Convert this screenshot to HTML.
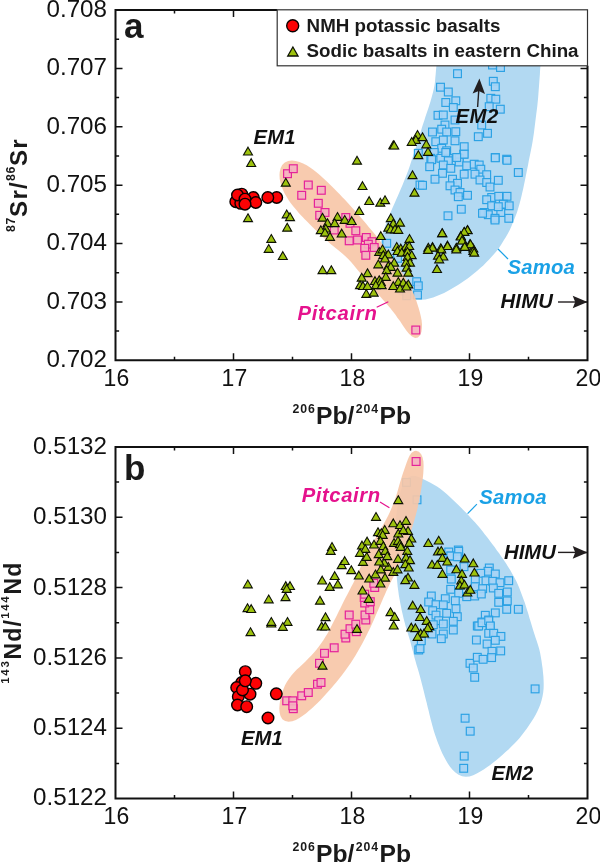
<!DOCTYPE html>
<html><head><meta charset="utf-8"><title>Sr-Nd-Pb isotopes</title>
<style>html,body{margin:0;padding:0;background:#fff}svg{display:block;will-change:transform}text{font-family:"Liberation Sans",sans-serif}.tk{font-size:24.2px;fill:#111}.bl{font-weight:bold;fill:#1a1a1a}.it{font-weight:bold;font-style:italic;font-size:20.3px}.sq{fill:#a6d4f5;fill-opacity:.92;stroke:#2aa1e4;stroke-width:1.15}.pk{fill:#f4b2c0;fill-opacity:.92;stroke:#e5239a;stroke-width:1.2}.tr{fill:#9dc20d;stroke:#0c1004;stroke-width:1.1;stroke-linejoin:miter}.rc{fill:#fc0204;stroke:#0a0000;stroke-width:1.4}</style></head><body>
<svg width="600" height="862" viewBox="0 0 600 862">
<rect width="600" height="862" fill="#fff"/>
<defs><path id="T" d="M0,-4.15 L4.5,3.65 L-4.5,3.65Z"/><rect id="S" x="-3.9" y="-3.9" width="7.8" height="7.8"/><rect id="P" x="-3.9" y="-3.9" width="7.8" height="7.8"/></defs>
<path d="M438.4,58.9 L437.0,62.2 L436.4,66.0 L436.0,70.0 L435.7,74.0 L435.3,78.0 L435.0,81.9 L434.4,85.9 L433.6,89.8 L432.6,93.7 L431.6,97.5 L430.5,101.4 L429.3,105.2 L428.1,109.0 L426.8,112.8 L425.5,116.6 L424.3,120.4 L423.0,124.2 L421.8,128.0 L420.7,131.9 L419.5,135.7 L418.3,139.5 L417.1,143.3 L415.9,147.2 L414.7,151.0 L413.4,154.8 L412.2,158.6 L410.9,162.4 L409.7,166.2 L408.4,170.0 L407.0,173.7 L405.5,177.4 L404.0,181.2 L402.5,184.9 L401.0,188.6 L399.4,192.2 L397.8,195.9 L396.2,199.6 L394.6,203.2 L392.9,206.9 L391.4,210.6 L389.8,214.3 L388.3,218.0 L386.8,221.7 L385.4,225.4 L384.2,229.2 L383.0,233.1 L382.0,236.9 L381.3,240.8 L380.8,244.8 L380.5,248.8 L380.4,252.8 L380.4,256.7 L380.7,260.7 L381.2,264.7 L381.9,268.6 L382.8,272.5 L384.1,276.2 L385.7,279.8 L387.6,283.3 L389.8,286.6 L392.4,289.5 L395.4,292.1 L398.6,294.4 L402.1,296.2 L405.8,297.6 L409.6,298.6 L413.5,299.3 L417.5,299.6 L421.5,299.7 L425.4,299.4 L429.3,298.6 L433.1,297.4 L436.8,296.1 L440.5,294.5 L444.1,292.9 L447.7,291.1 L451.2,289.1 L454.6,287.1 L458.0,285.0 L461.4,282.8 L464.7,280.6 L468.0,278.3 L471.1,275.8 L474.2,273.2 L477.3,270.7 L480.3,268.1 L483.3,265.4 L486.1,262.6 L488.9,259.7 L491.6,256.8 L494.3,253.8 L496.9,250.8 L499.3,247.6 L501.4,244.2 L503.5,240.8 L505.6,237.4 L507.6,233.9 L509.5,230.4 L511.2,226.8 L512.7,223.1 L514.2,219.4 L515.7,215.7 L517.1,211.9 L518.3,208.1 L519.4,204.3 L520.4,200.4 L521.4,196.5 L522.3,192.6 L523.2,188.7 L524.0,184.8 L524.8,180.9 L525.6,177.0 L526.4,173.0 L527.2,169.1 L528.0,165.2 L528.7,161.3 L529.5,157.3 L530.3,153.4 L531.1,149.5 L531.9,145.5 L532.6,141.6 L533.2,137.7 L533.8,133.7 L534.3,129.7 L534.8,125.7 L535.3,121.8 L535.8,117.8 L536.3,113.8 L536.8,109.9 L537.3,105.9 L537.7,101.9 L538.1,97.9 L538.4,93.9 L538.7,89.9 L539.0,85.9 L539.3,82.0 L539.6,78.0 L539.9,74.0 L540.1,70.0 L540.4,66.0 L540.3,62.2 L539.3,58.8 L537.2,56.1 L534.1,53.8 L530.8,51.7 L527.4,49.6 L523.9,47.6 L520.3,46.1 L516.6,45.3 L512.6,45.1 L508.7,45.0 L504.6,45.0 L500.6,45.0 L496.6,45.0 L492.6,45.0 L488.6,45.0 L484.6,45.0 L480.6,45.0 L476.6,45.0 L472.6,45.0 L468.6,45.0 L464.7,45.2 L460.8,45.7 L457.1,47.0 L453.6,48.7 L450.1,50.6 L446.6,52.6 L443.2,54.6 L440.1,56.9Z" fill="#b2d9f2"/>
<g class="sq"><use href="#S" x="418.3" y="153.3"/><use href="#S" x="420.0" y="185.0"/><use href="#S" x="386.7" y="243.3"/><use href="#S" x="397.5" y="258.3"/><use href="#S" x="416.7" y="281.7"/><use href="#S" x="418.3" y="285.8"/><use href="#S" x="417.5" y="295.0"/><use href="#S" x="457.5" y="73.7"/><use href="#S" x="500.5" y="67.5"/><use href="#S" x="492.5" y="65.0"/><use href="#S" x="440.5" y="87.2"/><use href="#S" x="448.3" y="92.0"/><use href="#S" x="493.3" y="81.3"/><use href="#S" x="495.3" y="86.7"/><use href="#S" x="445.8" y="102.5"/><use href="#S" x="455.8" y="100.8"/><use href="#S" x="453.3" y="107.5"/><use href="#S" x="490.8" y="98.3"/><use href="#S" x="495.8" y="99.2"/><use href="#S" x="489.2" y="106.7"/><use href="#S" x="500.3" y="109.2"/><use href="#S" x="438.0" y="115.3"/><use href="#S" x="443.3" y="115.0"/><use href="#S" x="455.0" y="120.0"/><use href="#S" x="445.0" y="125.0"/><use href="#S" x="441.7" y="129.2"/><use href="#S" x="432.5" y="132.0"/><use href="#S" x="446.7" y="132.0"/><use href="#S" x="455.8" y="131.7"/><use href="#S" x="481.7" y="125.0"/><use href="#S" x="487.5" y="133.3"/><use href="#S" x="478.3" y="136.7"/><use href="#S" x="435.8" y="141.7"/><use href="#S" x="443.3" y="140.0"/><use href="#S" x="455.0" y="140.8"/><use href="#S" x="441.7" y="148.3"/><use href="#S" x="446.7" y="150.8"/><use href="#S" x="464.2" y="146.7"/><use href="#S" x="463.7" y="154.2"/><use href="#S" x="434.2" y="152.5"/><use href="#S" x="495.3" y="157.5"/><use href="#S" x="506.7" y="159.2"/><use href="#S" x="430.8" y="158.3"/><use href="#S" x="448.3" y="158.3"/><use href="#S" x="459.2" y="158.3"/><use href="#S" x="431.7" y="159.7"/><use href="#S" x="440.8" y="158.3"/><use href="#S" x="445.8" y="152.5"/><use href="#S" x="429.7" y="166.7"/><use href="#S" x="448.3" y="160.8"/><use href="#S" x="443.3" y="165.0"/><use href="#S" x="450.8" y="168.3"/><use href="#S" x="459.2" y="162.0"/><use href="#S" x="464.2" y="154.2"/><use href="#S" x="456.7" y="157.5"/><use href="#S" x="466.7" y="165.8"/><use href="#S" x="474.2" y="164.2"/><use href="#S" x="479.2" y="165.0"/><use href="#S" x="480.8" y="169.2"/><use href="#S" x="442.5" y="173.3"/><use href="#S" x="435.0" y="179.2"/><use href="#S" x="452.5" y="179.2"/><use href="#S" x="464.2" y="174.2"/><use href="#S" x="475.0" y="174.2"/><use href="#S" x="486.7" y="174.7"/><use href="#S" x="457.5" y="183.3"/><use href="#S" x="450.0" y="185.8"/><use href="#S" x="455.0" y="190.0"/><use href="#S" x="460.0" y="192.5"/><use href="#S" x="458.3" y="196.7"/><use href="#S" x="467.5" y="195.3"/><use href="#S" x="422.5" y="185.3"/><use href="#S" x="480.0" y="180.0"/><use href="#S" x="486.7" y="182.5"/><use href="#S" x="490.0" y="187.0"/><use href="#S" x="498.3" y="180.3"/><use href="#S" x="495.3" y="157.8"/><use href="#S" x="507.0" y="160.3"/><use href="#S" x="518.3" y="172.5"/><use href="#S" x="491.7" y="197.5"/><use href="#S" x="486.7" y="199.7"/><use href="#S" x="498.7" y="196.3"/><use href="#S" x="507.0" y="196.3"/><use href="#S" x="491.7" y="205.8"/><use href="#S" x="503.3" y="204.2"/><use href="#S" x="509.2" y="205.8"/><use href="#S" x="484.2" y="212.5"/><use href="#S" x="488.3" y="214.7"/><use href="#S" x="500.8" y="212.5"/><use href="#S" x="495.0" y="218.3"/><use href="#S" x="508.8" y="218.3"/><use href="#S" x="482.5" y="213.3"/><use href="#S" x="498.3" y="206.7"/><use href="#S" x="461.3" y="209.2"/><use href="#S" x="448.0" y="215.8"/><use href="#S" x="495.0" y="220.0"/><use href="#S" x="406.7" y="295.8"/></g>
<path d="M279.7,172.1 L280.6,168.3 L282.2,165.0 L284.8,162.6 L288.2,161.1 L291.9,160.5 L295.7,160.9 L299.5,162.0 L303.1,163.5 L306.7,165.3 L310.1,167.4 L313.3,169.7 L316.5,172.2 L319.5,174.8 L322.5,177.4 L325.5,180.2 L328.4,182.9 L331.2,185.7 L334.0,188.6 L336.9,191.4 L339.7,194.3 L342.4,197.2 L345.2,200.1 L347.9,203.0 L350.6,206.0 L353.3,208.9 L356.0,211.9 L358.6,214.9 L361.2,218.0 L363.8,221.1 L366.4,224.1 L368.9,227.2 L371.5,230.3 L374.1,233.3 L376.6,236.4 L379.1,239.6 L381.5,242.8 L383.7,246.1 L386.0,249.4 L388.3,252.7 L390.6,256.0 L392.9,259.3 L395.1,262.6 L397.4,265.9 L399.7,269.2 L402.0,272.5 L404.2,275.8 L406.2,279.2 L408.2,282.7 L410.0,286.3 L411.8,289.9 L413.5,293.5 L415.1,297.2 L416.4,300.9 L417.6,304.7 L418.8,308.6 L419.9,312.4 L420.8,316.3 L421.6,320.2 L422.0,324.2 L421.9,328.1 L421.4,332.0 L420.1,335.3 L417.9,337.6 L415.1,338.0 L412.0,336.6 L409.2,334.1 L406.7,331.0 L404.4,327.8 L402.2,324.4 L400.0,321.1 L397.6,317.9 L395.3,314.6 L392.9,311.4 L390.4,308.3 L387.8,305.2 L385.2,302.2 L382.5,299.2 L379.9,296.2 L377.2,293.2 L374.6,290.2 L372.0,287.1 L369.4,284.0 L366.9,281.0 L364.3,277.9 L361.7,274.9 L359.1,271.8 L356.6,268.7 L354.0,265.6 L351.5,262.5 L348.7,259.6 L345.9,256.8 L342.9,254.1 L339.9,251.5 L336.8,249.0 L333.7,246.4 L330.6,243.9 L327.6,241.3 L324.6,238.6 L321.6,235.9 L318.7,233.1 L315.8,230.3 L313.0,227.5 L310.2,224.7 L307.3,221.8 L304.5,219.0 L301.7,216.1 L299.0,213.2 L296.4,210.1 L293.8,207.1 L291.4,203.9 L289.0,200.7 L286.9,197.3 L284.9,193.9 L283.1,190.3 L281.6,186.6 L280.5,182.8 L279.7,178.9 L279.5,175.0Z" fill="#f7c7a8" fill-opacity=".92"/>
<g class="pk"><use href="#P" x="287.5" y="173.7"/><use href="#P" x="293.3" y="168.7"/><use href="#P" x="308.3" y="185.0"/><use href="#P" x="301.7" y="195.3"/><use href="#P" x="321.3" y="190.3"/><use href="#P" x="318.3" y="203.3"/><use href="#P" x="319.7" y="215.3"/><use href="#P" x="325.0" y="212.5"/><use href="#P" x="334.2" y="230.0"/><use href="#P" x="345.8" y="217.5"/><use href="#P" x="350.0" y="223.3"/><use href="#P" x="355.8" y="230.8"/><use href="#P" x="349.2" y="240.8"/><use href="#P" x="357.5" y="240.0"/><use href="#P" x="366.3" y="237.5"/><use href="#P" x="372.0" y="241.7"/><use href="#P" x="368.3" y="244.2"/><use href="#P" x="374.2" y="247.5"/><use href="#P" x="364.7" y="248.3"/><use href="#P" x="365.8" y="255.3"/><use href="#P" x="415.8" y="330.0"/></g>
<g class="tr"><use href="#T" x="248.0" y="151.3"/><use href="#T" x="251.2" y="162.8"/><use href="#T" x="285.8" y="182.5"/><use href="#T" x="248.0" y="218.0"/><use href="#T" x="286.7" y="214.2"/><use href="#T" x="290.0" y="217.0"/><use href="#T" x="287.2" y="227.5"/><use href="#T" x="393.3" y="145.0"/><use href="#T" x="394.2" y="145.3"/><use href="#T" x="357.0" y="160.5"/><use href="#T" x="417.5" y="134.7"/><use href="#T" x="415.8" y="139.7"/><use href="#T" x="411.7" y="141.7"/><use href="#T" x="418.3" y="155.0"/><use href="#T" x="412.5" y="175.0"/><use href="#T" x="414.5" y="192.5"/><use href="#T" x="362.5" y="185.8"/><use href="#T" x="369.2" y="200.8"/><use href="#T" x="380.3" y="202.5"/><use href="#T" x="385.0" y="200.0"/><use href="#T" x="359.2" y="210.8"/><use href="#T" x="322.5" y="217.5"/><use href="#T" x="337.5" y="216.7"/><use href="#T" x="344.7" y="219.7"/><use href="#T" x="351.7" y="220.8"/><use href="#T" x="327.5" y="223.0"/><use href="#T" x="334.7" y="223.0"/><use href="#T" x="325.8" y="228.3"/><use href="#T" x="320.8" y="230.0"/><use href="#T" x="325.0" y="232.5"/><use href="#T" x="330.0" y="236.7"/><use href="#T" x="341.7" y="233.3"/><use href="#T" x="322.5" y="270.0"/><use href="#T" x="331.3" y="270.0"/><use href="#T" x="380.8" y="235.8"/><use href="#T" x="390.8" y="218.0"/><use href="#T" x="393.3" y="223.3"/><use href="#T" x="400.0" y="222.5"/><use href="#T" x="388.3" y="227.5"/><use href="#T" x="390.8" y="229.2"/><use href="#T" x="395.0" y="229.2"/><use href="#T" x="398.3" y="229.7"/><use href="#T" x="409.5" y="238.7"/><use href="#T" x="396.7" y="246.7"/><use href="#T" x="400.8" y="248.3"/><use href="#T" x="405.8" y="246.7"/><use href="#T" x="409.2" y="245.8"/><use href="#T" x="397.5" y="250.8"/><use href="#T" x="401.7" y="252.5"/><use href="#T" x="407.5" y="251.7"/><use href="#T" x="411.7" y="255.0"/><use href="#T" x="407.5" y="256.7"/><use href="#T" x="410.0" y="262.5"/><use href="#T" x="405.8" y="262.5"/><use href="#T" x="406.7" y="267.5"/><use href="#T" x="408.3" y="272.5"/><use href="#T" x="379.2" y="251.7"/><use href="#T" x="382.5" y="249.2"/><use href="#T" x="383.3" y="255.0"/><use href="#T" x="388.3" y="254.2"/><use href="#T" x="385.0" y="258.3"/><use href="#T" x="378.3" y="264.2"/><use href="#T" x="394.2" y="262.5"/><use href="#T" x="388.3" y="265.8"/><use href="#T" x="390.8" y="266.7"/><use href="#T" x="386.7" y="270.0"/><use href="#T" x="397.5" y="272.5"/><use href="#T" x="385.8" y="276.7"/><use href="#T" x="367.5" y="273.0"/><use href="#T" x="361.7" y="277.5"/><use href="#T" x="375.0" y="280.8"/><use href="#T" x="379.2" y="280.0"/><use href="#T" x="380.8" y="281.7"/><use href="#T" x="398.3" y="281.7"/><use href="#T" x="403.3" y="282.5"/><use href="#T" x="408.3" y="284.2"/><use href="#T" x="360.0" y="285.0"/><use href="#T" x="363.0" y="285.8"/><use href="#T" x="367.5" y="285.8"/><use href="#T" x="375.8" y="285.0"/><use href="#T" x="381.7" y="285.0"/><use href="#T" x="393.3" y="285.8"/><use href="#T" x="400.0" y="288.3"/><use href="#T" x="406.3" y="286.3"/><use href="#T" x="366.3" y="293.7"/><use href="#T" x="373.7" y="292.5"/><use href="#T" x="271.3" y="238.7"/><use href="#T" x="268.7" y="248.7"/><use href="#T" x="282.8" y="255.8"/><use href="#T" x="422.5" y="137.0"/><use href="#T" x="426.3" y="144.2"/><use href="#T" x="428.0" y="151.7"/><use href="#T" x="442.2" y="233.0"/><use href="#T" x="467.5" y="229.7"/><use href="#T" x="464.2" y="231.7"/><use href="#T" x="460.8" y="235.8"/><use href="#T" x="462.5" y="240.0"/><use href="#T" x="470.0" y="243.7"/><use href="#T" x="464.7" y="245.8"/><use href="#T" x="447.5" y="245.3"/><use href="#T" x="432.5" y="246.7"/><use href="#T" x="428.3" y="247.5"/><use href="#T" x="440.8" y="248.0"/><use href="#T" x="456.3" y="247.5"/><use href="#T" x="473.3" y="248.3"/><use href="#T" x="442.2" y="233.0"/><use href="#T" x="467.5" y="230.0"/><use href="#T" x="464.2" y="231.7"/><use href="#T" x="460.8" y="236.3"/><use href="#T" x="462.0" y="240.3"/><use href="#T" x="470.5" y="244.2"/><use href="#T" x="464.7" y="246.7"/><use href="#T" x="456.3" y="249.2"/><use href="#T" x="473.3" y="250.8"/><use href="#T" x="474.2" y="252.5"/><use href="#T" x="447.5" y="245.8"/><use href="#T" x="432.5" y="247.5"/><use href="#T" x="428.0" y="249.7"/><use href="#T" x="441.3" y="249.2"/><use href="#T" x="438.0" y="255.5"/><use href="#T" x="443.3" y="256.3"/><use href="#T" x="439.2" y="259.2"/><use href="#T" x="437.0" y="268.8"/></g>
<g class="rc"><circle cx="241.7" cy="194.2" r="5.8"/><circle cx="235.8" cy="201.7" r="5.8"/><circle cx="253.3" cy="197.5" r="5.8"/><circle cx="240.8" cy="203.3" r="5.8"/><circle cx="237.5" cy="195.0" r="5.8"/><circle cx="245.0" cy="199.2" r="5.8"/><circle cx="255.8" cy="202.5" r="5.8"/><circle cx="245.0" cy="204.2" r="5.8"/><circle cx="276.7" cy="197.5" r="5.8"/><circle cx="267.8" cy="197.5" r="5.8"/></g>
<path d="M174.5,360.3 v-3.6 M174.5,10.0 v3.6 M233.5,360.3 v-7 M233.5,10.0 v7 M292.5,360.3 v-3.6 M292.5,10.0 v3.6 M351.5,360.3 v-7 M351.5,10.0 v7 M410.5,360.3 v-3.6 M410.5,10.0 v3.6 M469.5,360.3 v-7 M469.5,10.0 v7 M528.5,360.3 v-3.6 M528.5,10.0 v3.6 M115.5,39.2 h3.6 M587.5,39.2 h-3.6 M115.5,68.4 h7 M587.5,68.4 h-7 M115.5,97.6 h3.6 M587.5,97.6 h-3.6 M115.5,126.8 h7 M587.5,126.8 h-7 M115.5,156.0 h3.6 M587.5,156.0 h-3.6 M115.5,185.2 h7 M587.5,185.2 h-7 M115.5,214.3 h3.6 M587.5,214.3 h-3.6 M115.5,243.5 h7 M587.5,243.5 h-7 M115.5,272.7 h3.6 M587.5,272.7 h-3.6 M115.5,301.9 h7 M587.5,301.9 h-7 M115.5,331.1 h3.6 M587.5,331.1 h-3.6" stroke="#111" stroke-width="1.5" fill="none"/>
<path d="M277.2,10.0 H115.5 V360.3 H587.5 V65.8" fill="none" stroke="#111" stroke-width="2" stroke-linejoin="miter"/>
<text class="tk" text-anchor="end" transform="translate(107,16.9)">0.708</text>
<text class="tk" text-anchor="end" transform="translate(107,75.3)">0.707</text>
<text class="tk" text-anchor="end" transform="translate(107,133.7)">0.706</text>
<text class="tk" text-anchor="end" transform="translate(107,192.1)">0.705</text>
<text class="tk" text-anchor="end" transform="translate(107,250.4)">0.704</text>
<text class="tk" text-anchor="end" transform="translate(107,308.8)">0.703</text>
<text class="tk" text-anchor="end" transform="translate(107,367.2)">0.702</text>
<text class="tk" text-anchor="middle" style="font-size:23px" transform="translate(116.4,385.5)">16</text>
<text class="tk" text-anchor="middle" style="font-size:23px" transform="translate(234.4,385.5)">17</text>
<text class="tk" text-anchor="middle" style="font-size:23px" transform="translate(352.4,385.5)">18</text>
<text class="tk" text-anchor="middle" style="font-size:23px" transform="translate(470.4,385.5)">19</text>
<text class="tk" text-anchor="middle" style="font-size:23px" transform="translate(588.4,385.5)">20</text>
<rect x="277.2" y="9.8" width="310.3" height="56" fill="#fff" stroke="#333" stroke-width="1.2"/>
<circle cx="292.7" cy="25.8" r="6" class="rc"/>
<use href="#T" x="292.9" y="51.8" class="tr" transform="translate(292.9,51.8) scale(1.15) translate(-292.9,-51.8)"/>
<text class="bl" font-size="18.75" x="306.6" y="31.7">NMH potassic basalts</text>
<text class="bl" font-size="18.75" x="306.6" y="56.5">Sodic basalts in eastern China</text>
<text class="bl" font-size="35" x="124" y="38">a</text>
<text class="bl" font-size="35" x="124" y="479.5">b</text>
<text class="it" x="253.5" y="144.2" fill="#111" letter-spacing=".2">EM1</text>
<text class="it" x="455.5" y="123" fill="#111" letter-spacing=".5">EM2</text>
<text class="it" x="500.5" y="308.4" fill="#111" letter-spacing=".2">HIMU</text>
<text class="it" x="507.5" y="273.6" fill="#1aa1e6" letter-spacing=".2">Samoa</text>
<text class="it" x="297.5" y="320" fill="#e5128d" letter-spacing=".7">Pitcairn</text>
<path d="M498,249 L508,259" stroke="#1aa1e6" stroke-width="1.2"/>
<path d="M376.7,307.3 L388.3,301.7" stroke="#e5128d" stroke-width="1.2"/>
<path d="M558,302 H576" stroke="#231f20" stroke-width="1.4"/><path d="M587.5,302 L572.7,295.7 L575.2,302 L572.7,308.3Z" fill="#231f20"/>
<path d="M477.6,107 L478.8,90" stroke="#231f20" stroke-width="1.4"/><path d="M479.4,78.5 L472.6,93.5 L478.8,91 L485,94Z" fill="#231f20"/>
<text class="bl" font-size="24.7" x="292.4" y="423.9"><tspan font-size="12.3" dy="-11.3" letter-spacing="1">206</tspan><tspan dy="11.3">Pb/</tspan><tspan font-size="12.3" dx="1.3" dy="-11.3" letter-spacing="1">204</tspan><tspan dx=".4" dy="11.3">Pb</tspan></text>
<text class="bl" font-size="24.7" x="292.4" y="861.9"><tspan font-size="12.3" dy="-11.3" letter-spacing="1">206</tspan><tspan dy="11.3">Pb/</tspan><tspan font-size="12.3" dx="1.3" dy="-11.3" letter-spacing="1">204</tspan><tspan dx=".4" dy="11.3">Pb</tspan></text>
<text class="bl" font-size="24.2" letter-spacing="1.2" transform="translate(26.5,232.0) rotate(-90)"><tspan font-size="12.3" dy="-11.5" letter-spacing="0.7">87</tspan><tspan dy="11.5">Sr/</tspan><tspan font-size="12.3" dy="-11.5" letter-spacing="0.7">86</tspan><tspan dy="11.5">Sr</tspan></text>
<text class="bl" font-size="23" letter-spacing="1.2" transform="translate(20.5,683.8) rotate(-90)"><tspan font-size="11.5" dy="-11.4" letter-spacing="1.7">143</tspan><tspan dy="11.4">Nd/</tspan><tspan font-size="11.5" dy="-11.4" letter-spacing="1.7">144</tspan><tspan dy="11.4">Nd</tspan></text>
<path d="M412.2,475.8 L415.7,476.1 L419.3,477.3 L422.9,479.0 L426.5,480.8 L430.0,482.6 L433.5,484.6 L437.0,486.5 L440.3,488.7 L443.4,491.2 L446.4,493.8 L449.4,496.5 L452.3,499.2 L455.2,502.0 L458.1,504.8 L460.9,507.6 L463.8,510.4 L466.6,513.3 L469.3,516.2 L472.0,519.2 L474.7,522.1 L477.3,525.1 L479.9,528.1 L482.5,531.2 L484.9,534.4 L487.4,537.6 L489.8,540.7 L492.2,543.9 L494.6,547.1 L496.9,550.4 L499.3,553.6 L501.6,556.9 L503.9,560.2 L506.1,563.5 L508.2,566.9 L510.3,570.3 L512.2,573.8 L514.2,577.3 L516.1,580.8 L517.8,584.4 L519.3,588.1 L520.7,591.8 L522.1,595.6 L523.5,599.3 L524.9,603.1 L526.1,606.9 L527.3,610.7 L528.5,614.5 L529.6,618.4 L530.8,622.2 L531.9,626.0 L533.1,629.9 L534.3,633.7 L535.5,637.5 L536.8,641.3 L538.0,645.1 L539.2,648.9 L540.1,652.8 L540.8,656.7 L541.5,660.7 L542.0,664.6 L542.6,668.6 L543.0,672.5 L543.4,676.5 L543.6,680.5 L543.7,684.5 L543.6,688.5 L543.2,692.5 L542.5,696.4 L541.6,700.3 L540.5,704.1 L539.0,707.8 L537.3,711.4 L535.5,714.9 L533.5,718.4 L531.4,721.8 L529.2,725.1 L526.9,728.4 L524.6,731.6 L522.1,734.8 L519.6,737.9 L516.9,740.9 L514.2,743.8 L511.4,746.6 L508.5,749.4 L505.5,752.1 L502.6,754.7 L499.5,757.4 L496.5,759.9 L493.3,762.4 L490.2,764.9 L486.9,767.2 L483.7,769.5 L480.3,771.6 L476.8,773.6 L473.2,775.3 L469.5,776.4 L465.8,776.8 L462.1,776.2 L458.6,774.7 L455.4,772.5 L452.5,769.8 L450.0,766.7 L447.8,763.4 L445.8,760.0 L443.9,756.5 L442.1,752.9 L440.5,749.2 L439.0,745.6 L437.5,741.8 L436.2,738.1 L434.9,734.3 L433.7,730.4 L432.6,726.6 L431.6,722.7 L430.6,718.9 L429.6,715.0 L428.7,711.1 L427.7,707.2 L426.8,703.3 L425.8,699.5 L424.8,695.6 L423.9,691.7 L422.9,687.8 L421.9,683.9 L420.9,680.1 L419.9,676.2 L418.8,672.3 L417.7,668.5 L416.5,664.7 L415.4,660.8 L414.3,657.0 L413.3,653.1 L412.3,649.2 L411.3,645.4 L410.3,641.5 L409.2,637.7 L408.0,633.9 L406.8,630.0 L405.6,626.2 L404.6,622.3 L403.6,618.5 L402.7,614.6 L401.8,610.7 L401.0,606.7 L400.2,602.8 L399.5,598.9 L398.8,594.9 L398.3,591.0 L397.7,587.0 L397.3,583.0 L396.9,579.1 L396.6,575.1 L396.3,571.1 L396.1,567.1 L395.9,563.1 L395.7,559.1 L395.5,555.1 L395.3,551.1 L395.2,547.1 L395.1,543.1 L395.2,539.1 L395.3,535.1 L395.5,531.1 L395.6,527.1 L395.7,523.1 L395.9,519.1 L396.2,515.2 L396.7,511.2 L397.4,507.2 L398.0,503.3 L398.7,499.4 L399.5,495.5 L400.5,491.6 L401.7,487.8 L403.2,484.1 L405.0,480.7 L407.5,478.0 L410.5,476.2Z" fill="#b2d9f2"/>
<g class="sq"><use href="#S" x="458.3" y="550.0"/><use href="#S" x="448.7" y="552.0"/><use href="#S" x="451.3" y="556.0"/><use href="#S" x="458.7" y="556.7"/><use href="#S" x="450.7" y="556.0"/><use href="#S" x="458.7" y="551.3"/><use href="#S" x="457.3" y="556.7"/><use href="#S" x="464.0" y="566.7"/><use href="#S" x="450.7" y="570.0"/><use href="#S" x="451.3" y="579.1"/><use href="#S" x="450.7" y="589.3"/><use href="#S" x="458.7" y="593.3"/><use href="#S" x="431.3" y="596.0"/><use href="#S" x="466.7" y="596.7"/><use href="#S" x="445.3" y="598.7"/><use href="#S" x="455.3" y="600.7"/><use href="#S" x="428.7" y="602.0"/><use href="#S" x="436.0" y="604.7"/><use href="#S" x="443.3" y="604.9"/><use href="#S" x="456.0" y="608.7"/><use href="#S" x="432.7" y="610.7"/><use href="#S" x="446.7" y="613.3"/><use href="#S" x="436.0" y="615.1"/><use href="#S" x="457.3" y="616.7"/><use href="#S" x="438.7" y="620.7"/><use href="#S" x="489.3" y="568.0"/><use href="#S" x="488.0" y="571.3"/><use href="#S" x="495.3" y="574.0"/><use href="#S" x="480.7" y="573.3"/><use href="#S" x="475.3" y="579.3"/><use href="#S" x="486.0" y="580.7"/><use href="#S" x="492.7" y="581.3"/><use href="#S" x="500.0" y="582.7"/><use href="#S" x="508.7" y="580.7"/><use href="#S" x="475.3" y="586.7"/><use href="#S" x="482.7" y="588.7"/><use href="#S" x="493.3" y="588.0"/><use href="#S" x="498.7" y="593.3"/><use href="#S" x="507.3" y="592.0"/><use href="#S" x="474.7" y="596.0"/><use href="#S" x="481.3" y="594.0"/><use href="#S" x="498.7" y="602.3"/><use href="#S" x="507.3" y="600.9"/><use href="#S" x="506.7" y="609.3"/><use href="#S" x="518.3" y="609.3"/><use href="#S" x="495.3" y="612.9"/><use href="#S" x="485.3" y="615.3"/><use href="#S" x="482.0" y="622.0"/><use href="#S" x="488.7" y="620.0"/><use href="#S" x="490.0" y="626.0"/><use href="#S" x="477.3" y="626.0"/><use href="#S" x="443.3" y="624.0"/><use href="#S" x="453.3" y="621.3"/><use href="#S" x="433.3" y="624.7"/><use href="#S" x="453.3" y="630.0"/><use href="#S" x="443.3" y="634.0"/><use href="#S" x="441.3" y="638.7"/><use href="#S" x="432.0" y="634.0"/><use href="#S" x="421.3" y="640.7"/><use href="#S" x="418.7" y="650.0"/><use href="#S" x="420.0" y="648.7"/><use href="#S" x="470.0" y="663.3"/><use href="#S" x="478.7" y="626.0"/><use href="#S" x="482.0" y="622.7"/><use href="#S" x="488.7" y="620.7"/><use href="#S" x="490.3" y="626.0"/><use href="#S" x="488.7" y="633.3"/><use href="#S" x="493.7" y="633.3"/><use href="#S" x="500.9" y="636.4"/><use href="#S" x="476.4" y="640.0"/><use href="#S" x="495.3" y="640.3"/><use href="#S" x="487.1" y="644.0"/><use href="#S" x="492.0" y="651.3"/><use href="#S" x="500.7" y="650.9"/><use href="#S" x="477.3" y="657.3"/><use href="#S" x="483.1" y="659.3"/><use href="#S" x="491.6" y="657.6"/><use href="#S" x="473.3" y="668.0"/><use href="#S" x="474.7" y="677.3"/><use href="#S" x="535.1" y="688.9"/><use href="#S" x="465.1" y="718.2"/><use href="#S" x="470.2" y="731.2"/><use href="#S" x="464.2" y="756.1"/><use href="#S" x="463.7" y="768.3"/><use href="#S" x="417.0" y="499.8"/><use href="#S" x="406.5" y="482.4"/></g>
<path d="M416.0,450.7 L418.9,451.7 L421.2,454.2 L422.6,457.6 L423.4,461.4 L423.6,465.4 L423.5,469.3 L423.3,473.3 L422.9,477.3 L422.4,481.3 L421.8,485.3 L421.2,489.2 L420.5,493.2 L419.8,497.1 L419.0,501.0 L418.2,504.9 L417.4,508.9 L416.4,512.7 L415.4,516.6 L414.3,520.5 L413.2,524.3 L412.0,528.1 L410.8,531.9 L409.4,535.7 L408.1,539.5 L406.8,543.3 L405.5,547.1 L404.2,550.9 L402.9,554.6 L401.6,558.4 L400.3,562.2 L398.8,565.9 L397.2,569.6 L395.4,573.2 L393.6,576.7 L391.7,580.3 L389.9,583.8 L388.1,587.4 L386.4,591.0 L384.8,594.7 L383.2,598.3 L381.6,602.0 L380.0,605.7 L378.4,609.4 L376.8,613.1 L375.2,616.7 L373.6,620.4 L372.0,624.1 L370.3,627.7 L368.5,631.3 L366.7,634.9 L364.9,638.4 L363.1,642.0 L361.2,645.5 L359.2,649.0 L357.2,652.5 L355.2,655.9 L353.1,659.3 L350.9,662.7 L348.6,665.9 L346.3,669.2 L343.9,672.5 L341.5,675.7 L339.1,678.8 L336.5,681.9 L333.9,685.0 L331.4,688.0 L328.7,691.0 L326.0,694.0 L323.3,697.0 L320.6,699.9 L317.8,702.7 L314.9,705.5 L312.0,708.2 L309.0,710.8 L305.9,713.4 L302.7,715.8 L299.4,718.0 L295.9,719.9 L292.3,721.2 L288.6,721.7 L285.1,721.1 L282.3,719.2 L280.5,716.1 L279.6,712.4 L279.3,708.5 L279.6,704.6 L280.1,700.6 L280.9,696.7 L282.0,692.9 L283.4,689.2 L284.9,685.5 L286.8,682.0 L289.0,678.7 L291.4,675.6 L294.0,672.5 L296.8,669.6 L299.7,666.9 L302.6,664.2 L305.5,661.4 L308.3,658.6 L311.1,655.7 L313.8,652.7 L316.4,649.7 L318.9,646.5 L321.2,643.3 L323.5,640.0 L325.6,636.6 L327.7,633.2 L329.6,629.7 L331.4,626.1 L333.2,622.6 L335.0,619.0 L336.8,615.4 L338.6,611.8 L340.4,608.2 L342.2,604.6 L343.9,601.1 L345.7,597.5 L347.6,593.9 L349.4,590.4 L351.3,586.8 L353.2,583.3 L354.9,579.7 L356.6,576.1 L358.2,572.4 L359.8,568.7 L361.4,565.0 L363.0,561.4 L364.7,557.8 L366.5,554.2 L368.4,550.7 L370.3,547.1 L372.3,543.6 L374.3,540.2 L376.3,536.7 L378.3,533.3 L380.3,529.8 L382.3,526.3 L384.3,522.8 L386.3,519.3 L388.1,515.8 L389.8,512.2 L391.4,508.5 L392.9,504.8 L394.3,501.1 L395.7,497.3 L396.9,493.5 L398.0,489.7 L399.1,485.8 L400.2,482.0 L401.4,478.1 L402.6,474.3 L403.9,470.5 L405.2,466.7 L406.5,462.9 L407.9,459.2 L409.5,455.7 L411.6,452.7 L414.4,451.0Z" fill="#f7c7a8" fill-opacity=".92"/>
<g class="pk"><use href="#P" x="286.7" y="700.8"/><use href="#P" x="293.3" y="708.7"/><use href="#P" x="292.8" y="700.8"/><use href="#P" x="292.8" y="705.8"/><use href="#P" x="301.7" y="695.8"/><use href="#P" x="308.3" y="692.5"/><use href="#P" x="324.5" y="653.3"/><use href="#P" x="334.2" y="647.8"/><use href="#P" x="345.8" y="638.0"/><use href="#P" x="345.0" y="634.2"/><use href="#P" x="350.0" y="628.7"/><use href="#P" x="356.3" y="631.7"/><use href="#P" x="355.8" y="624.2"/><use href="#P" x="349.2" y="615.0"/><use href="#P" x="365.8" y="620.0"/><use href="#P" x="365.0" y="615.0"/><use href="#P" x="369.7" y="609.7"/><use href="#P" x="364.7" y="603.0"/><use href="#P" x="370.3" y="601.7"/><use href="#P" x="364.2" y="597.5"/><use href="#P" x="364.7" y="594.2"/><use href="#P" x="374.7" y="587.5"/><use href="#P" x="373.8" y="583.3"/><use href="#P" x="416.1" y="461.5"/><use href="#P" x="317.5" y="684.2"/><use href="#P" x="321.0" y="682.5"/><use href="#P" x="319.5" y="663.3"/></g>
<g class="tr"><use href="#T" x="247.8" y="584.2"/><use href="#T" x="268.7" y="599.2"/><use href="#T" x="247.5" y="608.0"/><use href="#T" x="251.2" y="608.8"/><use href="#T" x="250.5" y="632.0"/><use href="#T" x="285.8" y="585.8"/><use href="#T" x="290.0" y="585.8"/><use href="#T" x="286.7" y="588.7"/><use href="#T" x="285.5" y="597.0"/><use href="#T" x="271.3" y="623.3"/><use href="#T" x="271.3" y="621.7"/><use href="#T" x="287.5" y="621.7"/><use href="#T" x="282.8" y="626.7"/><use href="#T" x="322.2" y="580.3"/><use href="#T" x="334.7" y="575.8"/><use href="#T" x="329.7" y="586.7"/><use href="#T" x="337.8" y="584.2"/><use href="#T" x="320.0" y="600.5"/><use href="#T" x="325.5" y="617.0"/><use href="#T" x="321.7" y="626.3"/><use href="#T" x="325.3" y="626.3"/><use href="#T" x="341.7" y="565.0"/><use href="#T" x="344.7" y="560.8"/><use href="#T" x="351.3" y="570.0"/><use href="#T" x="358.8" y="575.3"/><use href="#T" x="363.0" y="561.7"/><use href="#T" x="369.2" y="578.3"/><use href="#T" x="375.5" y="574.2"/><use href="#T" x="380.8" y="569.2"/><use href="#T" x="385.0" y="577.5"/><use href="#T" x="380.5" y="583.3"/><use href="#T" x="388.3" y="566.7"/><use href="#T" x="393.3" y="571.7"/><use href="#T" x="397.5" y="569.2"/><use href="#T" x="362.5" y="590.3"/><use href="#T" x="368.7" y="598.7"/><use href="#T" x="357.0" y="628.7"/><use href="#T" x="390.5" y="612.0"/><use href="#T" x="394.7" y="616.7"/><use href="#T" x="393.7" y="625.3"/><use href="#T" x="384.2" y="562.5"/><use href="#T" x="379.2" y="561.3"/><use href="#T" x="398.3" y="500.0"/><use href="#T" x="376.0" y="516.7"/><use href="#T" x="393.3" y="523.1"/><use href="#T" x="400.0" y="524.9"/><use href="#T" x="384.7" y="529.7"/><use href="#T" x="378.0" y="532.0"/><use href="#T" x="381.3" y="532.9"/><use href="#T" x="382.7" y="534.7"/><use href="#T" x="398.3" y="533.3"/><use href="#T" x="367.1" y="541.3"/><use href="#T" x="362.0" y="545.3"/><use href="#T" x="365.3" y="548.7"/><use href="#T" x="374.0" y="544.4"/><use href="#T" x="380.4" y="540.7"/><use href="#T" x="383.3" y="546.0"/><use href="#T" x="394.0" y="542.7"/><use href="#T" x="398.0" y="540.7"/><use href="#T" x="400.0" y="544.0"/><use href="#T" x="400.7" y="546.7"/><use href="#T" x="332.0" y="546.7"/><use href="#T" x="330.7" y="550.7"/><use href="#T" x="360.0" y="552.7"/><use href="#T" x="366.7" y="556.7"/><use href="#T" x="378.7" y="554.0"/><use href="#T" x="385.3" y="550.7"/><use href="#T" x="387.3" y="556.0"/><use href="#T" x="398.0" y="558.7"/><use href="#T" x="406.0" y="520.7"/><use href="#T" x="408.0" y="530.7"/><use href="#T" x="403.3" y="530.0"/><use href="#T" x="411.3" y="538.3"/><use href="#T" x="409.3" y="542.7"/><use href="#T" x="428.3" y="542.9"/><use href="#T" x="438.7" y="540.4"/><use href="#T" x="407.3" y="550.7"/><use href="#T" x="406.0" y="557.3"/><use href="#T" x="410.0" y="560.0"/><use href="#T" x="405.3" y="564.0"/><use href="#T" x="408.7" y="567.3"/><use href="#T" x="438.0" y="551.3"/><use href="#T" x="441.3" y="550.7"/><use href="#T" x="442.4" y="557.7"/><use href="#T" x="447.3" y="561.3"/><use href="#T" x="432.0" y="564.4"/><use href="#T" x="437.3" y="564.7"/><use href="#T" x="464.7" y="558.3"/><use href="#T" x="473.3" y="563.1"/><use href="#T" x="456.4" y="569.1"/><use href="#T" x="442.4" y="573.7"/><use href="#T" x="462.0" y="573.7"/><use href="#T" x="474.4" y="572.4"/><use href="#T" x="461.3" y="580.4"/><use href="#T" x="460.0" y="585.3"/><use href="#T" x="464.4" y="584.4"/><use href="#T" x="467.3" y="592.4"/><use href="#T" x="470.3" y="589.6"/><use href="#T" x="408.0" y="577.3"/><use href="#T" x="405.3" y="580.0"/><use href="#T" x="414.4" y="584.7"/><use href="#T" x="412.7" y="605.3"/><use href="#T" x="420.7" y="608.9"/><use href="#T" x="420.0" y="616.9"/><use href="#T" x="411.3" y="627.3"/><use href="#T" x="415.3" y="628.0"/><use href="#T" x="426.7" y="620.7"/><use href="#T" x="429.3" y="626.0"/><use href="#T" x="427.7" y="628.0"/><use href="#T" x="420.7" y="633.3"/><use href="#T" x="424.0" y="633.3"/><use href="#T" x="417.6" y="636.7"/><use href="#T" x="322.5" y="665.5"/></g>
<g class="rc"><circle cx="241.7" cy="682.5" r="5.8"/><circle cx="236.7" cy="687.5" r="5.8"/><circle cx="238.3" cy="696.7" r="5.8"/><circle cx="250.0" cy="694.2" r="5.8"/><circle cx="255.8" cy="683.3" r="5.8"/><circle cx="245.3" cy="671.7" r="5.8"/><circle cx="242.5" cy="690.0" r="5.8"/><circle cx="245.3" cy="680.8" r="5.8"/><circle cx="237.5" cy="705.0" r="5.8"/><circle cx="246.7" cy="706.7" r="5.8"/><circle cx="276.3" cy="693.8" r="5.8"/><circle cx="268.0" cy="718.0" r="5.8"/></g>
<path d="M174.5,798.5 v-3.6 M174.5,447.0 v3.6 M233.5,798.5 v-7 M233.5,447.0 v7 M292.5,798.5 v-3.6 M292.5,447.0 v3.6 M351.5,798.5 v-7 M351.5,447.0 v7 M410.5,798.5 v-3.6 M410.5,447.0 v3.6 M469.5,798.5 v-7 M469.5,447.0 v7 M528.5,798.5 v-3.6 M528.5,447.0 v3.6 M115.5,482.1 h3.6 M587.5,482.1 h-3.6 M115.5,517.3 h7 M587.5,517.3 h-7 M115.5,552.4 h3.6 M587.5,552.4 h-3.6 M115.5,587.6 h7 M587.5,587.6 h-7 M115.5,622.8 h3.6 M587.5,622.8 h-3.6 M115.5,657.9 h7 M587.5,657.9 h-7 M115.5,693.0 h3.6 M587.5,693.0 h-3.6 M115.5,728.2 h7 M587.5,728.2 h-7 M115.5,763.4 h3.6 M587.5,763.4 h-3.6" stroke="#111" stroke-width="1.5" fill="none"/>
<rect x="115.5" y="447.0" width="472.0" height="351.5" fill="none" stroke="#111" stroke-width="2"/>
<text class="tk" text-anchor="end" transform="translate(107,453.9)">0.5132</text>
<text class="tk" text-anchor="end" transform="translate(107,524.2)">0.5130</text>
<text class="tk" text-anchor="end" transform="translate(107,594.5)">0.5128</text>
<text class="tk" text-anchor="end" transform="translate(107,664.8)">0.5126</text>
<text class="tk" text-anchor="end" transform="translate(107,735.1)">0.5124</text>
<text class="tk" text-anchor="end" transform="translate(107,805.4)">0.5122</text>
<text class="tk" text-anchor="middle" style="font-size:23px" transform="translate(116.4,823.7)">16</text>
<text class="tk" text-anchor="middle" style="font-size:23px" transform="translate(234.4,823.7)">17</text>
<text class="tk" text-anchor="middle" style="font-size:23px" transform="translate(352.4,823.7)">18</text>
<text class="tk" text-anchor="middle" style="font-size:23px" transform="translate(470.4,823.7)">19</text>
<text class="tk" text-anchor="middle" style="font-size:23px" transform="translate(588.4,823.7)">20</text>
<text class="it" x="241" y="745" fill="#111">EM1</text>
<text class="it" x="491.5" y="780" fill="#111">EM2</text>
<text class="it" x="504" y="559" fill="#111">HIMU</text>
<text class="it" x="479.3" y="503.8" fill="#1aa1e6" letter-spacing=".2">Samoa</text>
<text class="it" x="301.8" y="502" fill="#e5128d" letter-spacing=".55">Pitcairn</text>
<path d="M467.6,513.6 L476.9,504.2" stroke="#1aa1e6" stroke-width="1.2"/>
<path d="M380,502 L389.4,507.8" stroke="#e5128d" stroke-width="1.2"/>
<path d="M558,552.4 H576" stroke="#231f20" stroke-width="1.4"/><path d="M587.5,552.4 L572.7,546.1 L575.2,552.4 L572.7,558.7Z" fill="#231f20"/>
</svg></body></html>
